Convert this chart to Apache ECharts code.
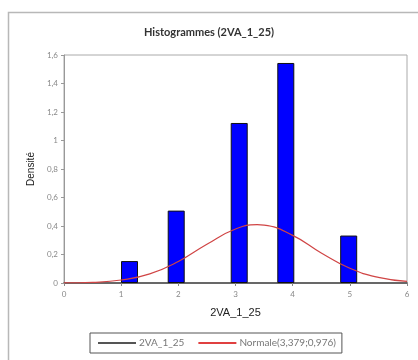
<!DOCTYPE html>
<html>
<head>
<meta charset="utf-8">
<script src="https://cdn.jsdelivr.net/npm/echarts@6/dist/echarts.min.js"></script>
<style>html,body{margin:0;padding:0;background:#fff}#c{width:418px;height:360px}</style>
</head>
<body>
<div id="c"></div>
<script>
// Histogram bars: bin centre positions and densities
const barX = [1.146, 1.963, 3.065, 3.88, 4.98];
const barY = [0.154, 0.508, 1.123, 1.544, 0.333];
// Normal curve
const curveX = [0, 0.5, 1, 1.5, 2, 2.5, 3, 3.379, 3.5, 4, 4.5, 5, 5.5, 6];
const curveY = [0.001, 0.005, 0.021, 0.064, 0.151, 0.272, 0.379, 0.409, 0.406, 0.334, 0.211, 0.103, 0.039, 0.011];
const xTicks = [0, 1, 2, 3, 4, 5, 6];
const yTicks = [0, 0.2, 0.4, 0.6, 0.8, 1, 1.2, 1.4, 1.6];
const titleText = 'Histogrammes (2VA_1_25)';
const histName = '2VA_1_25';
const normName = 'Normale(3,379;0,976)';

const chart = echarts.init(document.getElementById('c'), null, {renderer: 'canvas'});
chart.setOption({
  animation: false,
  backgroundColor: '#fff',
  graphic: [{
    type: 'rect', shape: {x: 8.5, y: 12.5, width: 460, height: 420},
    style: {fill: 'none', stroke: '#b8b8b8', lineWidth: 1.5}, z: -1
  }],
  title: {
    text: titleText, left: 'center', top: 22,
    textStyle: {fontFamily: 'Lato', fontSize: 11, fontWeight: 'bold', color: '#333'}
  },
  legend: {
    left: 90, top: 333,
    padding: [5, 6, 5, 8],
    borderColor: '#555', borderWidth: 1,
    itemWidth: 38, itemHeight: 2, itemGap: 14, icon: 'rect',
    textStyle: {fontFamily: 'Lato', fontSize: 10, color: '#777', padding: [0, 0, 0, -2]},
    data: [
      {name: histName, itemStyle: {color: '#555', borderWidth: 0}},
      {name: normName, itemStyle: {color: '#e04040', borderWidth: 0}}
    ]
  },
  grid: {left: 64, right: 11, top: 55, bottom: 77, show: true, borderColor: '#aaa', borderWidth: 1},
  xAxis: {
    type: 'value', min: xTicks[0], max: xTicks[xTicks.length - 1], interval: 1,
    name: histName, nameLocation: 'middle', nameGap: 24,
    nameTextStyle: {fontFamily: 'Liberation Sans', fontSize: 11, color: '#222'},
    axisLine: {onZero: false, lineStyle: {color: '#444', width: 1.5}},
    axisTick: {show: true, length: 3, lineStyle: {color: '#888'}},
    axisLabel: {fontFamily: 'Lato', fontSize: 8, color: '#888', margin: 7},
    splitLine: {show: false}
  },
  yAxis: {
    type: 'value', min: yTicks[0], max: yTicks[yTicks.length - 1], interval: 0.2,
    name: 'Densité', nameLocation: 'middle', nameGap: 25, nameRotate: 90,
    nameTextStyle: {fontFamily: 'Liberation Sans', fontSize: 10, color: '#222'},
    axisLine: {show: true, lineStyle: {color: '#999'}},
    axisTick: {show: true, length: 3, lineStyle: {color: '#999'}},
    axisLabel: {fontFamily: 'Lato', fontSize: 8, color: '#888', margin: 6,
      formatter: v => String(Math.round(v * 10) / 10).replace('.', ',')},
    splitLine: {show: false}
  },
  series: [
    {
      name: histName, type: 'bar', barWidth: 17,
      data: barX.map((x, i) => [x, barY[i]]),
      itemStyle: {color: '#0000ff', borderColor: '#111', borderWidth: 1}
    },
    {
      name: normName, type: 'line', smooth: true, showSymbol: false, symbol: 'none',
      data: curveX.map((x, i) => [x, curveY[i]]),
      lineStyle: {color: '#d04545', width: 1.2}, z: 3
    }
  ]
});
</script>
</body>
</html>
